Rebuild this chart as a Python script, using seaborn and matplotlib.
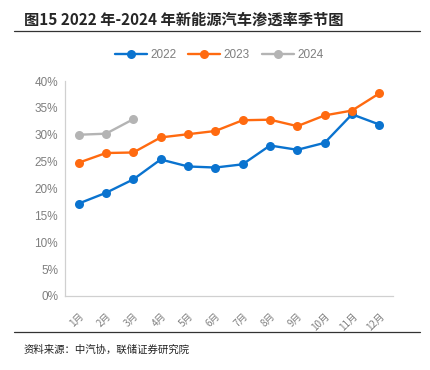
import matplotlib
matplotlib.use("Agg")
import matplotlib.pyplot as plt
import seaborn as sns
import pandas as pd
from matplotlib.ticker import PercentFormatter, FixedLocator

# 数据：新能源汽车渗透率 (%)
months = ['1月', '2月', '3月', '4月', '5月', '6月', '7月', '8月', '9月', '10月', '11月', '12月']
pen_2022 = [17.2, 19.2, 21.7, 25.4, 24.1, 23.9, 24.5, 28.0, 27.2, 28.5, 33.8, 31.9]
pen_2023 = [24.8, 26.6, 26.7, 29.5, 30.1, 30.7, 32.7, 32.8, 31.6, 33.6, 34.5, 37.7]
pen_2024 = [30.0, 30.2, 32.9]
years = ['2022', '2023', '2024']
colors = ['#0A73CF', '#FF6A10', '#B4B4B4']

rows = []
for y, vals in zip(years, [pen_2022, pen_2023, pen_2024]):
    for i, v in enumerate(vals):
        rows.append({'month': i, 'year': y, 'rate': v})
df = pd.DataFrame(rows)

sns.set_theme(style='white')
plt.rcParams['font.family'] = ['Liberation Sans', 'Noto Sans CJK SC', 'DejaVu Sans']

grey = '#7F7F7F'
fig = plt.figure(figsize=(4.3, 3.7), dpi=100)
ax = fig.add_axes([65 / 430, 1 - 296 / 370, 328 / 430, 215 / 370])

sns.lineplot(data=df, x='month', y='rate', hue='year', palette=colors,
             marker='o', markersize=6.5, markeredgewidth=0, linewidth=1.7, ax=ax)

ax.set_xlim(-0.5, 11.5)
ax.set_ylim(0, 40)
ax.yaxis.set_major_formatter(PercentFormatter(decimals=0))
ax.set_yticks(range(0, 41, 5))
ax.set_xticks(range(12))
ax.set_xticklabels(months, rotation=45, ha='right', rotation_mode='anchor',
                   color=grey, fontsize=7,
                   family=['Noto Sans CJK SC', 'DejaVu Sans'])
ax.tick_params(axis='x', length=0, pad=11)
ax.xaxis.set_minor_locator(FixedLocator([i - 0.5 for i in range(13)]))
ax.tick_params(axis='x', which='minor', length=3, color='#BFBFBF', width=0.8)
ax.tick_params(axis='y', labelsize=8.5, labelcolor=grey, length=3,
               color='#D0D0D0', width=0.8, pad=2)
ax.set_xlabel('')
ax.set_ylabel('')
for s in ['top', 'right']:
    ax.spines[s].set_visible(False)
for s in ['left', 'bottom']:
    ax.spines[s].set_color('#D0D0D0')
    ax.spines[s].set_linewidth(0.9)

leg = ax.legend(loc='center', bbox_to_anchor=(0.47, 1.12), ncol=3, frameon=False,
                fontsize=8.5, handlelength=2.7, columnspacing=1.0, handletextpad=0.3)
for t in leg.get_texts():
    t.set_color(grey)

fig.text(24 / 430, 1 - 20 / 370, '图15 2022 年-2024 年新能源汽车渗透率季节图',
         fontsize=11, fontweight='bold', va='center', ha='left',
         family=['Noto Sans CJK SC', 'DejaVu Sans'])
fig.add_artist(plt.Line2D([14 / 430, 420 / 430], [1 - 31 / 370, 1 - 31 / 370],
                          color='#333333', linewidth=0.9))
fig.add_artist(plt.Line2D([14 / 430, 420 / 430], [1 - 332 / 370, 1 - 332 / 370],
                          color='#333333', linewidth=0.9))
fig.text(24 / 430, 1 - 350 / 370, '资料来源：中汽协，联储证券研究院',
         fontsize=7.5, va='center', ha='left', color='#222222',
         family=['Noto Sans CJK SC', 'DejaVu Sans'])

fig.savefig('out.png', dpi=100)
